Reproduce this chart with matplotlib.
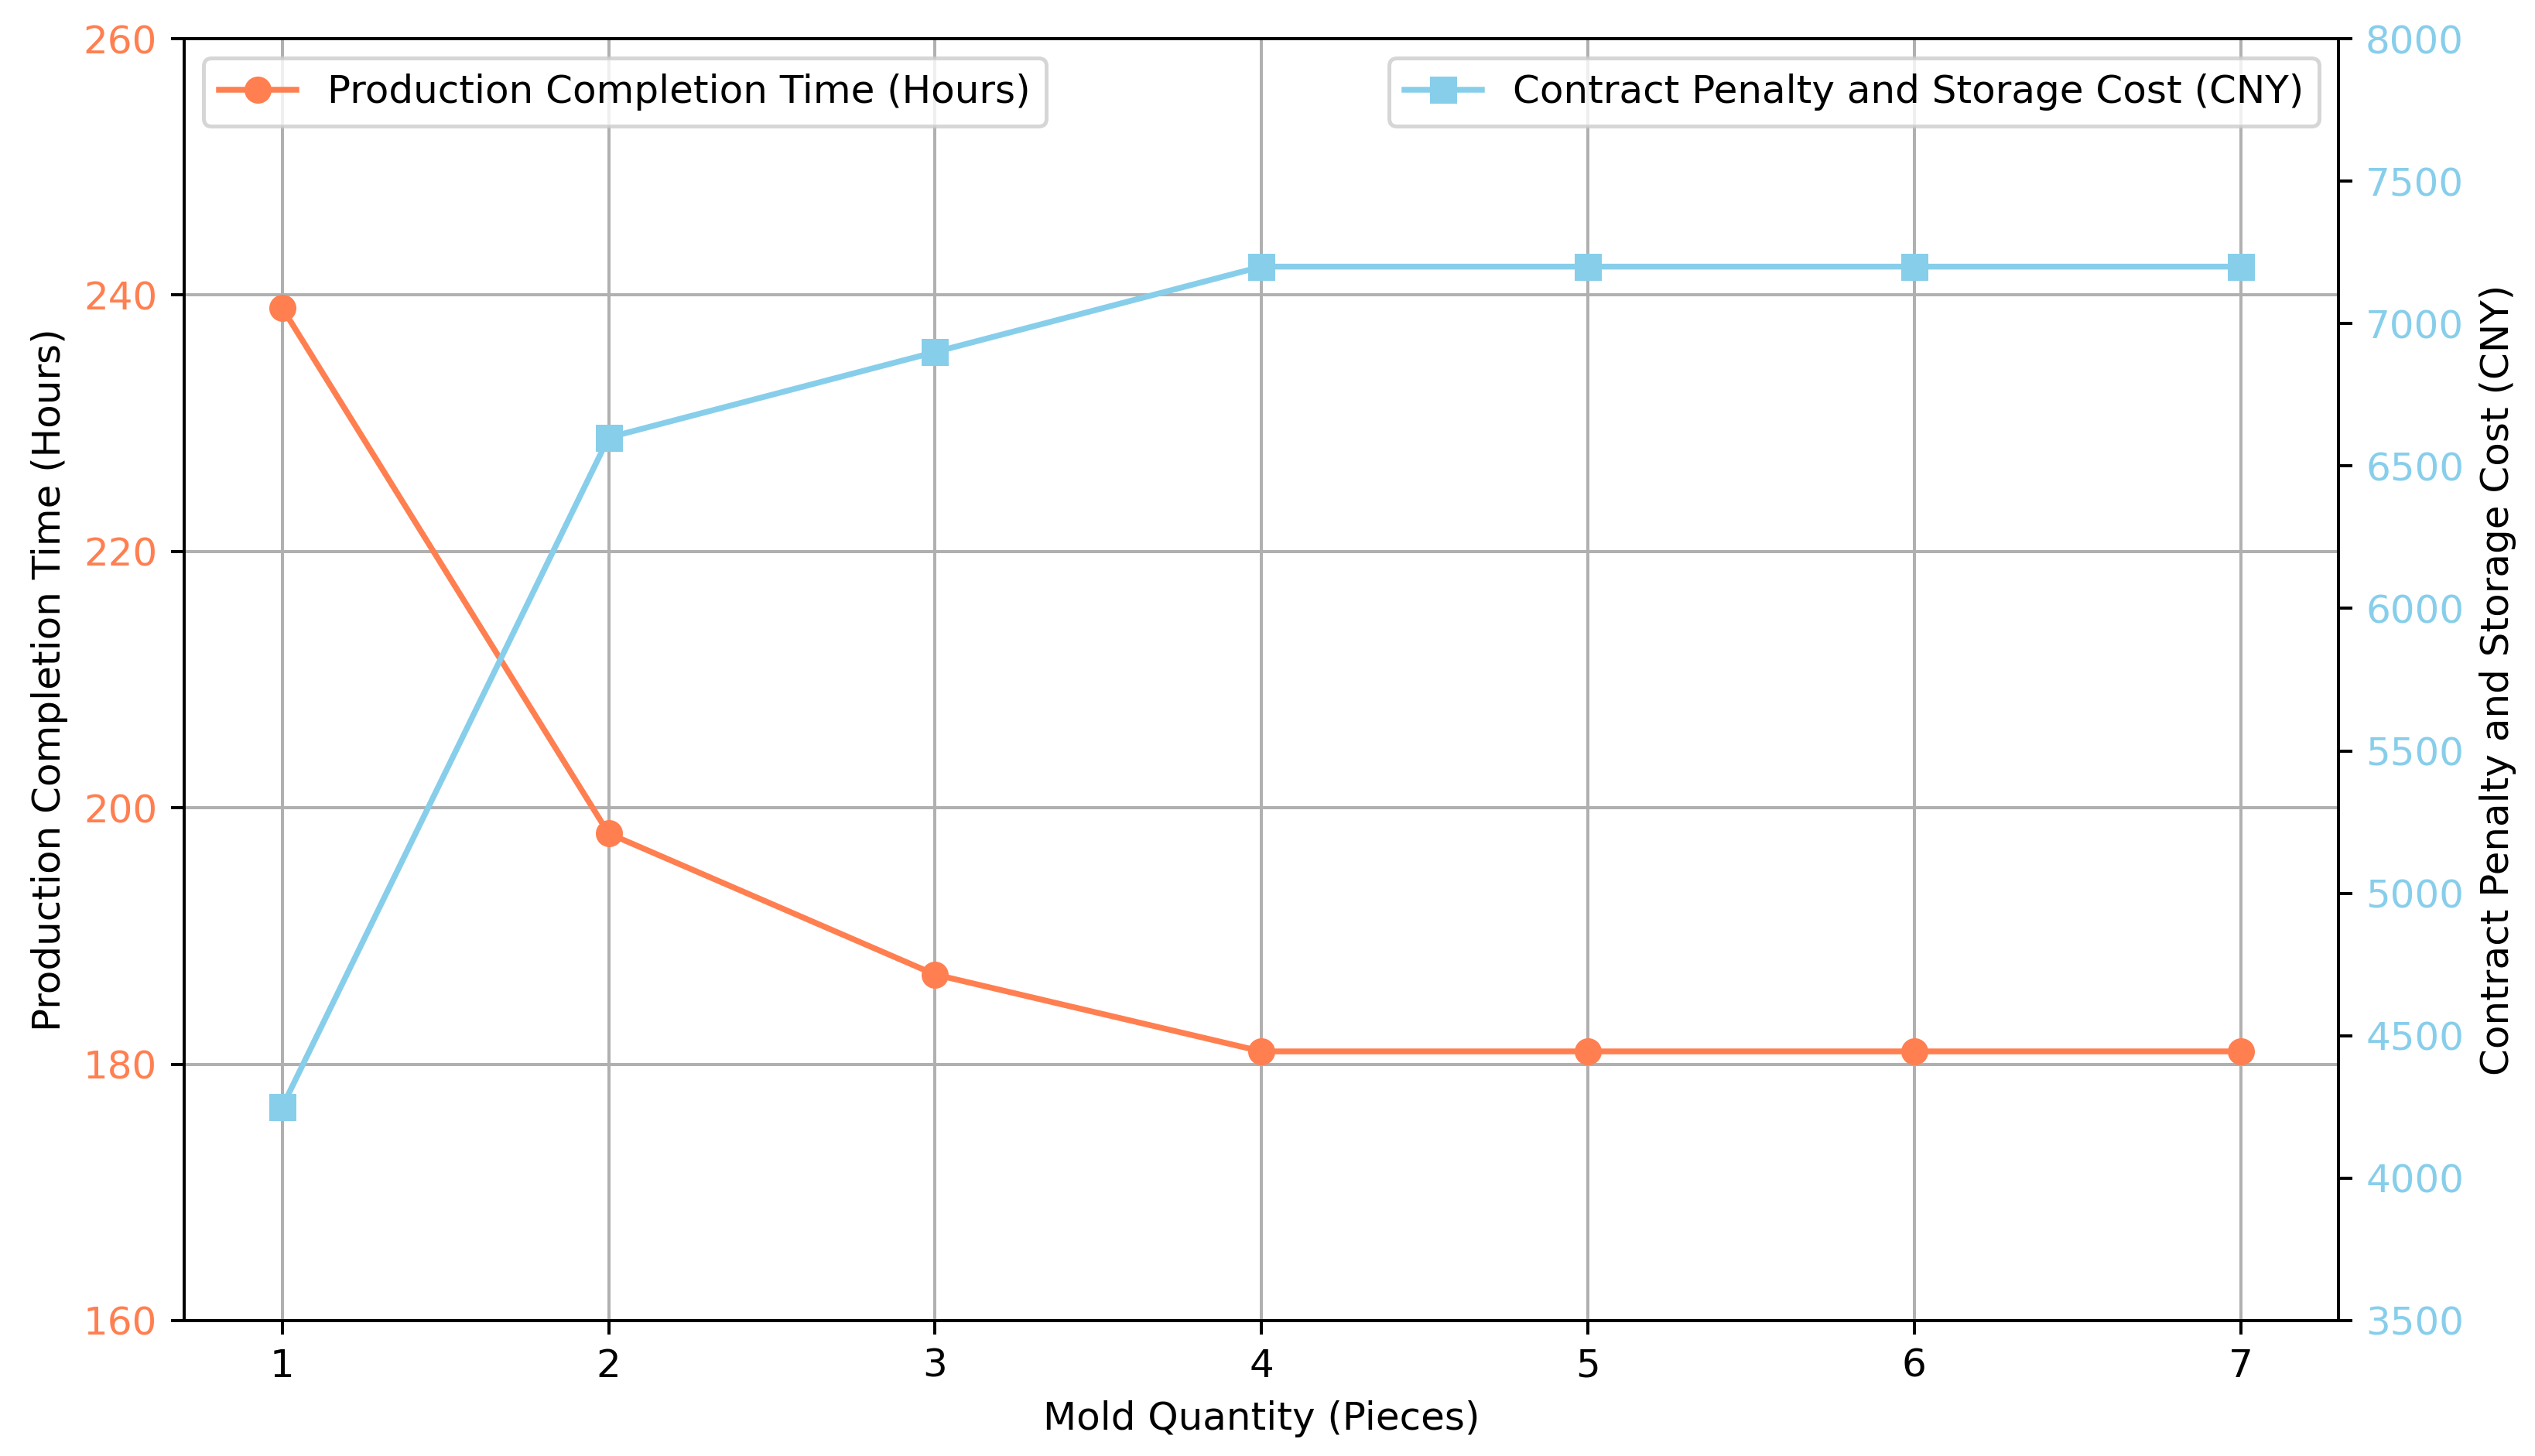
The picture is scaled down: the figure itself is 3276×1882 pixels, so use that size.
import matplotlib
matplotlib.use("Agg")
import matplotlib.pyplot as plt

# data
mold_qty = [1, 2, 3, 4, 5, 6, 7]
completion_hours = [239, 198, 187, 181, 181, 181, 181]
penalty_cost = [4250, 6600, 6900, 7200, 7200, 7200, 7200]

time_color = "coral"
cost_color = "skyblue"

fig, ax1 = plt.subplots(figsize=(3276 / 360, 1882 / 360), dpi=360)
fig.subplots_adjust(left=0.0727, right=0.9225, bottom=0.093, top=0.9734)

ax1.plot(mold_qty, completion_hours, color=time_color, marker="o",
         label="Production Completion Time (Hours)")
ax1.set_xlabel("Mold Quantity (Pieces)")
ax1.set_ylabel("Production Completion Time (Hours)")
ax1.tick_params(axis="y", labelcolor=time_color)
ax1.set_ylim(160, 260)
ax1.set_xticks(mold_qty)
ax1.grid(True)
ax1.legend(loc="upper left")

ax2 = ax1.twinx()
ax2.plot(mold_qty, penalty_cost, color=cost_color, marker="s",
         label="Contract Penalty and Storage Cost (CNY)")
ax2.set_ylabel("Contract Penalty and Storage Cost (CNY)")
ax2.tick_params(axis="y", labelcolor=cost_color)
ax2.set_ylim(3500, 8000)
ax2.legend(loc="upper right")

fig.savefig("out.png", dpi=360)
